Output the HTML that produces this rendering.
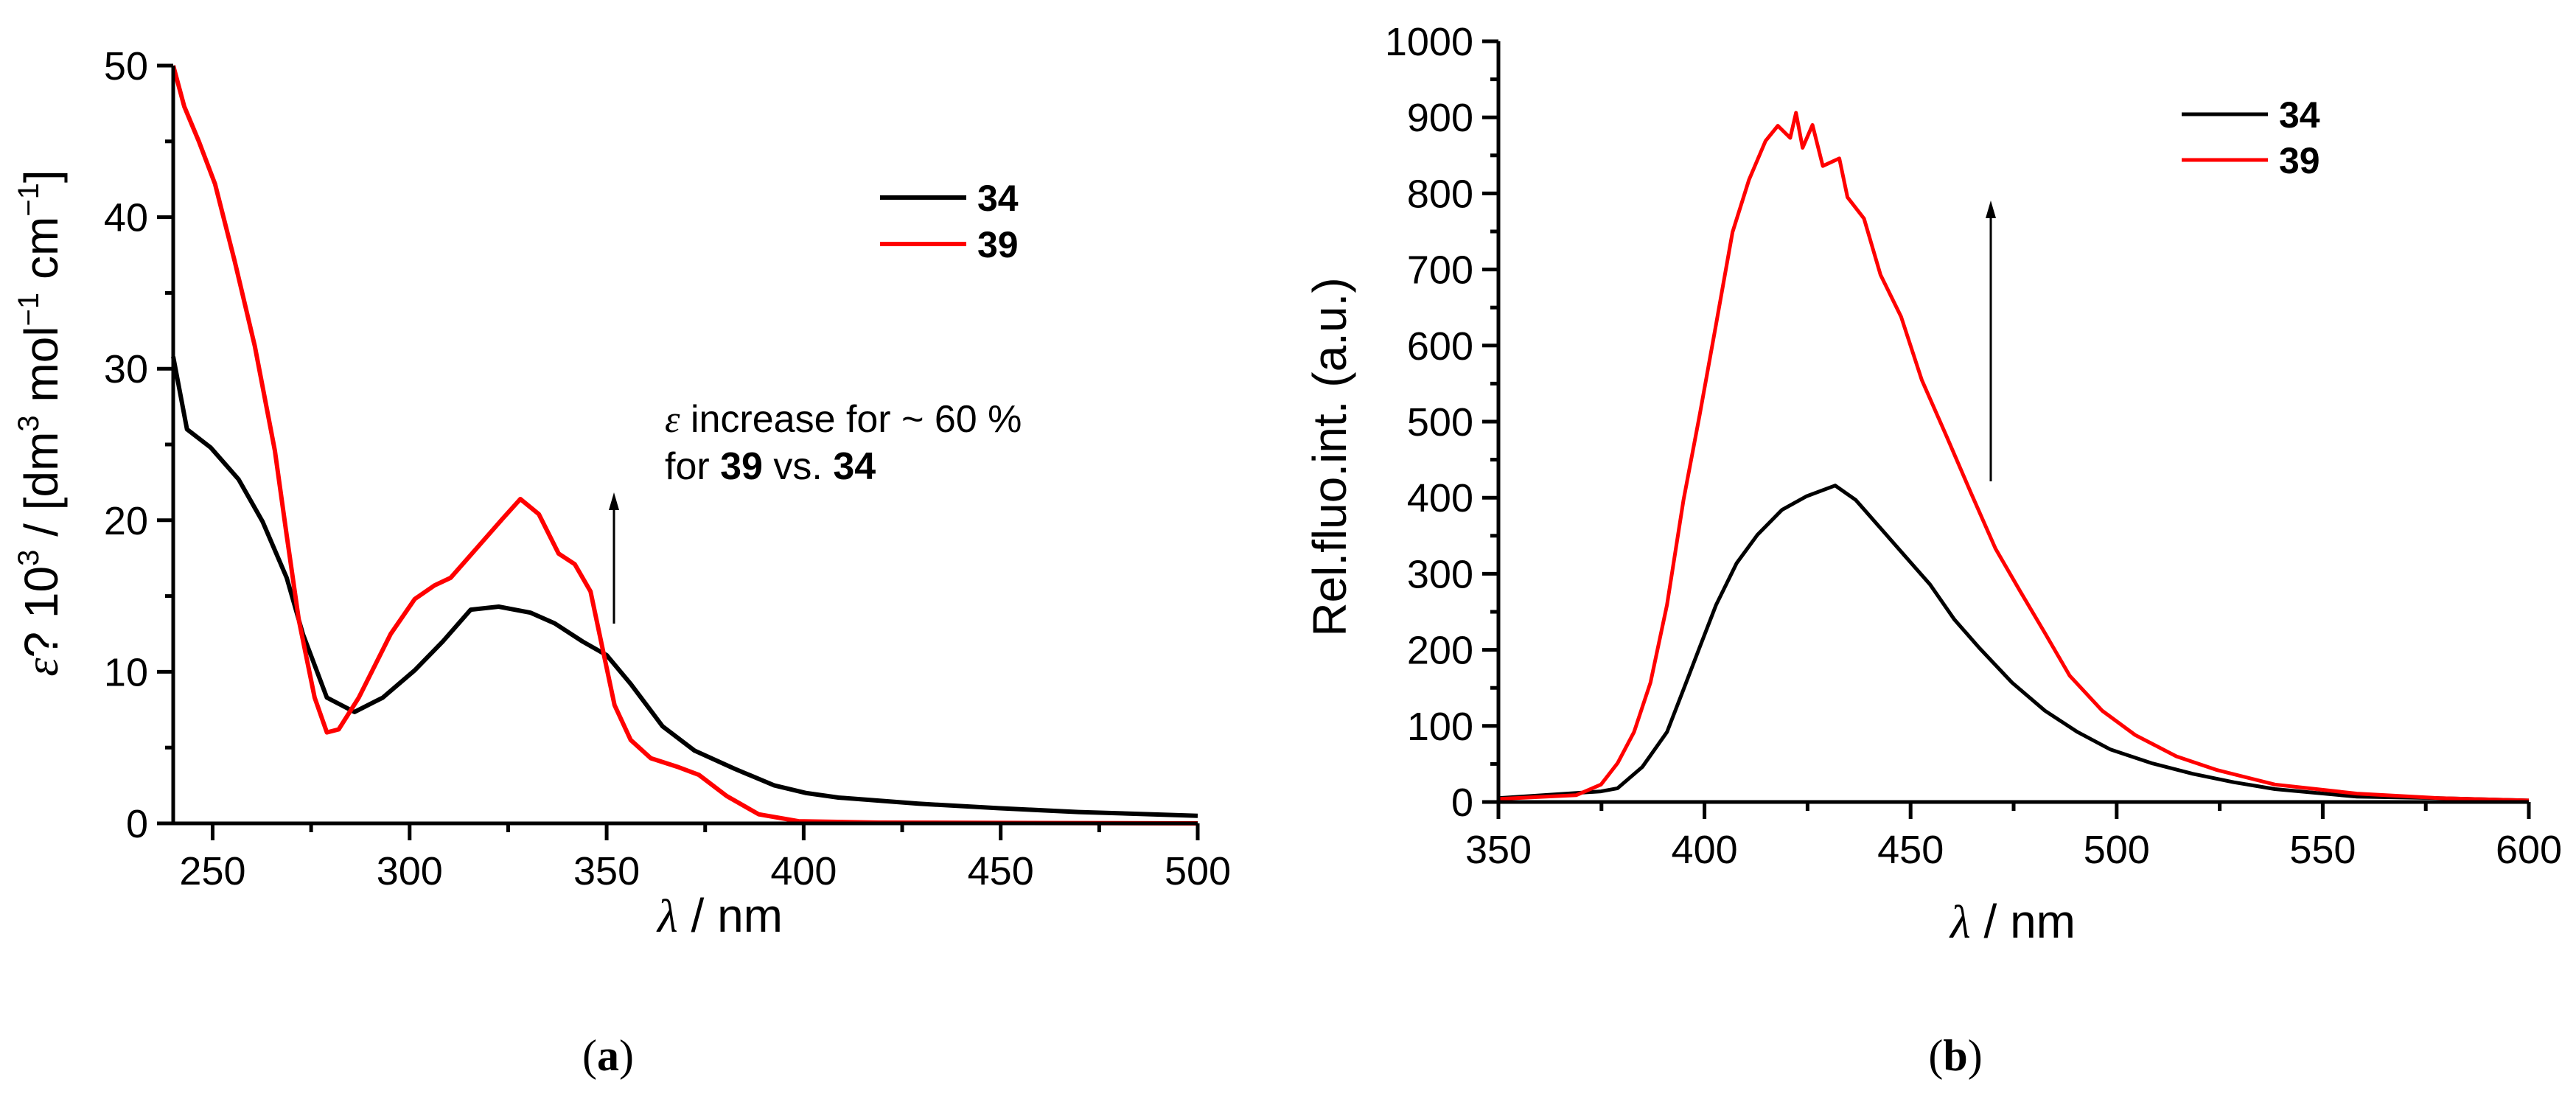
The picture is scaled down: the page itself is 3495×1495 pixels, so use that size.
<!DOCTYPE html>
<html><head><meta charset="utf-8"><style>
html,body{margin:0;padding:0;background:#fff;}
svg{display:block;font-family:"Liberation Sans",Arial,sans-serif;}
</style></head><body>
<svg id="fig" width="3495" height="1495" viewBox="0 0 3495 1495" xmlns="http://www.w3.org/2000/svg">
<g id="ga"></g>
<g id="gb"></g>
<text x="825" y="1452" text-anchor="middle" font-family="Liberation Serif, serif" font-size="60">(<tspan font-weight="bold">a</tspan>)</text>
<text x="2653" y="1452" text-anchor="middle" font-family="Liberation Serif, serif" font-size="60">(<tspan font-weight="bold">b</tspan>)</text>
</svg>
<script>
// Chart (a) data
const aX34 = [240,243.5,249.5,256.6,262.7,268.8,272.9,279,286,293.2,301.3,308.4,315.5,322.6,330.7,336.8,343.9,350,356.1,364.2,372.3,382.5,392.6,400.7,408.8,429.1,449.4,469.7,500];
const aY34 = [30.8,26,24.8,22.7,19.9,16.2,12.5,8.3,7.35,8.3,10.1,12,14.1,14.3,13.9,13.2,12,11.1,9.2,6.4,4.8,3.6,2.5,2.0,1.7,1.3,1.0,0.75,0.5];
const aX39 = [240,242.8,246.5,250.6,255.6,260.7,265.8,268.8,271.9,275.9,279,282,287.1,295.2,301.3,306.3,310.4,317.5,323.6,328.1,332.8,337.8,341.9,345.9,349,352,356.1,361.2,368.3,373.4,380.5,388.6,398.7,419,500];
const aY39 = [50,47.3,45,42.2,37.1,31.5,24.6,19,13.4,8.3,6.0,6.2,8.3,12.5,14.8,15.7,16.2,18.3,20.1,21.4,20.4,17.8,17.1,15.3,11.5,7.8,5.5,4.3,3.7,3.2,1.8,0.6,0.14,0.05,0];
const aXTicks = [250,300,350,400,450,500];
const aYTicks = [0,10,20,30,40,50];
// Chart (b) data
const bX34 = [350,374.9,378.9,384.9,390.9,394.9,398.8,402.8,407.8,412.8,418.8,424.8,431.7,436.7,442.7,448.7,454.7,460.6,466.6,474.6,482.6,490.5,498.5,508.5,518.5,528.4,538.4,558.3,578.3,600];
const bY34 = [5,14,18,46,92,148,203,259,314,351,384,402,416,397,360,323,286,240,203,157,120,92,69,51,37,26,17,7,5,2];
const bX39 = [350,368.9,374.9,378.9,382.9,386.9,390.9,394.9,398.8,402.8,406.8,410.8,414.8,417.8,420.8,422.2,423.8,426.2,428.7,432.7,434.7,438.7,442.7,447.7,452.7,458.7,464.6,470.6,476.6,482.6,488.6,496.5,504.5,514.5,524.4,538.4,558.3,578.3,600];
const bY39 = [4,9,23,51,92,157,259,397,508,628,749,818,869,889,873,906,860,890,836,846,795,767,693,638,555,481,407,333,277,222,166,120,88,60,42,23,11,5,2];
const bXTicks = [350,400,450,500,550,600];
const bYTicks = [0,100,200,300,400,500,600,700,800,900,1000];

const NS="http://www.w3.org/2000/svg";
function mk(parent,tag,attrs){const e=document.createElementNS(NS,tag);for(const k in attrs)e.setAttribute(k,attrs[k]);parent.appendChild(e);return e;}

function drawChart(g,cfg){
  const sx=v=>cfg.x0+(v-cfg.xmin)/(cfg.xmax-cfg.xmin)*(cfg.x1-cfg.x0);
  const sy=v=>cfg.y0-(v-cfg.ymin)/(cfg.ymax-cfg.ymin)*(cfg.y0-cfg.y1);
  cfg.series.forEach(s=>{
    let d='';
    s.x.forEach((v,i)=>{d+=(i?'L':'M')+sx(v).toFixed(1)+','+sy(s.y[i]).toFixed(1);});
    const p=mk(g,'path',{d:d,fill:'none',stroke:s.color,'stroke-width':cfg.lw,'stroke-linejoin':'round'});
    
    
  });
  const ax=mk(g,'path',{d:`M${cfg.x0},${cfg.y1}L${cfg.x0},${cfg.y0}L${cfg.x1},${cfg.y0}`,fill:'none',stroke:'#000','stroke-width':5});
  
  
  const xs=cfg.xTicks[1]-cfg.xTicks[0];
  for(let v=cfg.xTicks[0]-xs/2; v<=cfg.xmax+0.01; v+=xs/2){
    if(v<cfg.xmin-0.01) continue;
    const major=cfg.xTicks.some(t=>Math.abs(t-v)<0.01);
    const t=mk(g,'line',{x1:sx(v),x2:sx(v),y1:cfg.y0,y2:cfg.y0+(major?23:12),stroke:'#000','stroke-width':5});
    
    
  }
  cfg.xTicks.forEach(v=>{
    const t=mk(g,'text',{x:sx(v),y:cfg.y0+83,'text-anchor':'middle','font-size':54});
    t.textContent=v;
    
    
  });
  const ys=cfg.yTicks[1]-cfg.yTicks[0];
  for(let v=cfg.ymin; v<=cfg.ymax+0.01; v+=ys/2){
    const major=cfg.yTicks.some(t=>Math.abs(t-v)<0.01);
    const t=mk(g,'line',{x1:cfg.x0,x2:cfg.x0-(major?22:11),y1:sy(v),y2:sy(v),stroke:'#000','stroke-width':5});
    
    
  }
  cfg.yTicks.forEach(v=>{
    const t=mk(g,'text',{x:cfg.x0-34,y:sy(v)+19,'text-anchor':'end','font-size':54});
    t.textContent=v;
    
    
  });
  cfg.series.forEach((s,i)=>{
    const ly=cfg.legY+i*cfg.legDy;
    const l=mk(g,'line',{x1:cfg.legX,x2:cfg.legX+117,y1:ly,y2:ly,stroke:s.color,'stroke-width':cfg.lw});
    
    
    const t=mk(g,'text',{x:cfg.legX+132,y:ly+18,'font-size':50,'font-weight':'bold'});
    t.textContent=s.name;
    
    
  });
  return {sx,sy};
}

const ga=document.getElementById('ga');
drawChart(ga,{x0:235,x1:1625,y0:1117,y1:89,xmin:240,xmax:500,ymin:0,ymax:50,lw:6,
  xTicks:aXTicks,yTicks:aYTicks,legX:1194,legY:268,legDy:63,
  series:[{name:'34',color:'#000',x:aX34,y:aY34},{name:'39',color:'#f00',x:aX39,y:aY39}]});
const gb=document.getElementById('gb');
drawChart(gb,{x0:2033,x1:3431,y0:1088,y1:56,xmin:350,xmax:600,ymin:0,ymax:1000,lw:5,
  xTicks:bXTicks,yTicks:bYTicks,legX:2960,legY:155,legDy:62,
  series:[{name:'34',color:'#000',x:bX34,y:bY34},{name:'39',color:'#f00',x:bX39,y:bY39}]});
</script>
<script>
(function(){
const ga=document.getElementById('ga'), gb=document.getElementById('gb');
function add(parent,html){parent.insertAdjacentHTML('beforeend',html);}
add(ga,`<text transform="translate(78,574) rotate(-90)" text-anchor="middle" font-size="64"><tspan font-family="Liberation Serif, serif" font-style="italic">ε</tspan>? 10<tspan dy="-26" font-size="40">3</tspan><tspan dy="26"> / [dm</tspan><tspan dy="-26" font-size="40">3</tspan><tspan dy="26"> mol</tspan><tspan dy="-26" font-size="40">−1</tspan><tspan dy="26"> cm</tspan><tspan dy="-26" font-size="40">−1</tspan><tspan dy="26">]</tspan></text>`);
add(ga,`<text x="977" y="1264" text-anchor="middle" font-size="64"><tspan font-family="Liberation Serif, serif" font-style="italic">λ</tspan> / nm</text>`);
add(ga,`<text x="902" y="586" font-size="52"><tspan font-family="Liberation Serif, serif" font-style="italic">ε</tspan> increase for ~ 60 %</text>`);
add(ga,`<text x="902" y="650" font-size="52">for <tspan font-weight="bold">39</tspan> vs. <tspan font-weight="bold">34</tspan></text>`);
add(ga,`<g><line x1="833" y1="846" x2="833" y2="690" stroke="#000" stroke-width="3"/><polygon points="833,668 826,692 840,692" fill="#000"/></g>`);
add(gb,`<text transform="translate(1826,620) rotate(-90)" text-anchor="middle" font-size="64">Rel.fluo.int. (a.u.)</text>`);
add(gb,`<text x="2731" y="1272" text-anchor="middle" font-size="64"><tspan font-family="Liberation Serif, serif" font-style="italic">λ</tspan> / nm</text>`);
add(gb,`<g><line x1="2701" y1="653" x2="2701" y2="295" stroke="#000" stroke-width="3"/><polygon points="2701,272 2694,296 2708,296" fill="#000"/></g>`);
})();
</script>
</body></html>
